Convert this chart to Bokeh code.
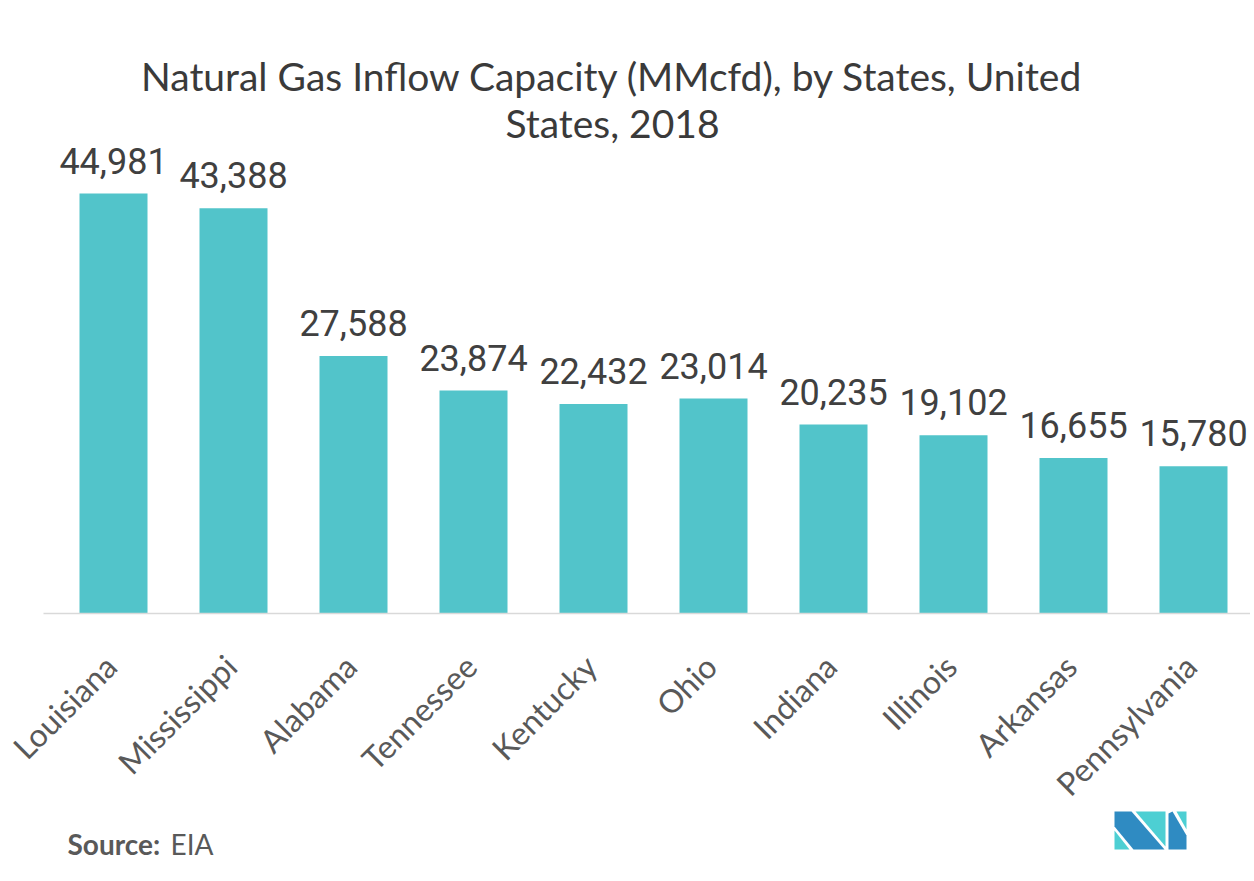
import math
from bokeh.plotting import figure
from bokeh.models import Range1d
from bokeh.core.properties import value
from bokeh.embed import file_html
from bokeh.resources import INLINE

# ---- data ----
states = ["Louisiana", "Mississippi", "Alabama", "Tennessee", "Kentucky",
          "Ohio", "Indiana", "Illinois", "Arkansas", "Pennsylvania"]
capacity = [44981, 43388, 27588, 23874, 22432, 23014, 20235, 19102, 16655, 15780]
title_lines = ["Natural Gas Inflow Capacity (MMcfd), by States, United", "States, 2018"]
source_label = "Source:"
source_name = "EIA"

# ---- layout ----
W, H = 1250, 878
BAR_COLOR = "#52c4ca"
k = 420.0 / 44981.0             # pixels per MMcfd
base_from_bottom = H - 613.0    # baseline position (px from bottom of canvas)
x_start = -113.0 / 120.0
x_end = (W - 113.0) / 120.0

p = figure(width=W, height=H, output_backend="svg", toolbar_location=None,
           x_range=Range1d(x_start, x_end),
           y_range=Range1d(-base_from_bottom / k, (H - base_from_bottom) / k),
           min_border=0, min_border_left=0, min_border_right=0,
           min_border_top=0, min_border_bottom=0)
p.axis.visible = False
p.grid.visible = False
p.outline_line_color = None
p.background_fill_color = "white"
p.border_fill_color = "white"

# screen-like decoration ranges (0,0 at top-left of canvas)
p.extra_x_ranges = {"px": Range1d(0, W)}
p.extra_y_ranges = {"px": Range1d(H, 0)}

xs = list(range(len(states)))

# bars
p.vbar(x=xs, top=capacity, bottom=0, width=68.0 / 120.0,
       fill_color=BAR_COLOR, line_color=None)

# baseline
p.segment(x0=[43], y0=[613], x1=[W], y1=[613], line_color="#d9d9d9",
          line_width=1.5, x_range_name="px", y_range_name="px")

# value labels
p.text(x=xs, y=capacity, text=[f"{v:,}" for v in capacity],
       text_align="center", text_baseline="alphabetic", y_offset=-33,
       text_font=value("Roboto"), text_font_size="36px", text_color="#404040")

# category labels (rotated)
p.text(x=xs, y=[0] * len(xs), text=states, angle=math.pi / 4,
       text_align="right", text_baseline="alphabetic", x_offset=-3, y_offset=47,
       text_font=value("Lato"), text_font_size="32px", text_color="#595959")

# title
p.text(x=[612, 612], y=[75, 122], text=title_lines,
       text_align="center", text_baseline="alphabetic",
       text_font=value("Lato"), text_font_size="39px", text_color="#3a3a3a",
       x_range_name="px", y_range_name="px")

# source
p.text(x=[67], y=[843], text=[source_label], text_align="left",
       text_baseline="alphabetic", text_font=value("Lato"), text_font_style="bold",
       text_font_size="28px", text_color="#595959",
       x_range_name="px", y_range_name="px")
p.text(x=[170], y=[843], text=[source_name], text_align="left",
       text_baseline="alphabetic", text_font=value("Lato"),
       text_font_size="28px", text_color="#595959",
       x_range_name="px", y_range_name="px")

# logo
ox, oy = 1114, 811
logo_dark = [
    [(0, 0), (17, 0), (50, 38), (19, 38), (0, 15)],
    [(54, 2), (58, 0), (72, 24), (72, 38), (54, 38)],
]
logo_light = [
    [(0, 19), (0, 38), (15, 38)],
    [(21, 0), (51, 0), (51, 35)],
    [(62, 0), (72, 0), (72, 18)],
]
for polys, col in ((logo_dark, "#2f8bc2"), (logo_light, "#4dcfd3")):
    p.patches(xs=[[ox + a for a, b in poly] for poly in polys],
              ys=[[oy + b for a, b in poly] for poly in polys],
              fill_color=col, line_color=None,
              x_range_name="px", y_range_name="px")

open("out.html", "w").write(file_html(p, INLINE))
